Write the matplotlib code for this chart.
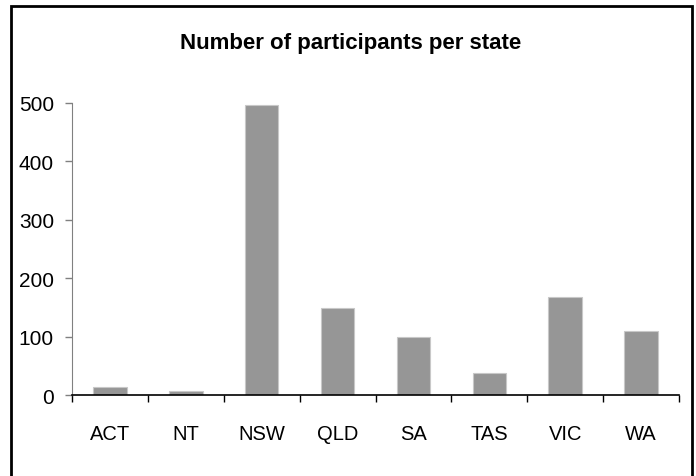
import matplotlib
matplotlib.use("Agg")
from matplotlib import pyplot as plt
from matplotlib.patches import Rectangle
import numpy as np

states = ["ACT", "NT", "NSW", "QLD", "SA", "TAS", "VIC", "WA"]
participants = [13, 7, 496, 149, 100, 38, 167, 109]
yticks = [0, 100, 200, 300, 400, 500]

plt.rcParams['font.family'] = ['Liberation Sans', 'DejaVu Sans']

fig = plt.figure(figsize=(6.96, 4.77), dpi=100)
ax = fig.add_axes([72 / 696, 1 - 396 / 477, (679 - 72) / 696, (396 - 104) / 477])

x = np.arange(len(states))
ax.bar(x, participants, width=0.44, color='#969696', edgecolor='#c8c8c8', linewidth=0.8)

ax.set_xlim(-0.5, len(states) - 0.5)
ax.set_ylim(0, 500)
ax.set_yticks(yticks)
ax.set_yticklabels([str(v) for v in yticks], fontsize=15)

# boundaries get the tick marks, centres get the labels
ax.set_xticks(np.arange(len(states) + 1) - 0.5)
ax.set_xticklabels([])
ax.set_xticks(x, minor=True)
ax.set_xticklabels(states, minor=True, fontsize=14.5)
ax.tick_params(axis='x', which='major', length=5, width=1, color='black', direction='out')
ax.tick_params(axis='x', which='minor', length=0, pad=21)
ax.tick_params(axis='y', length=5, width=1, color='#808080', pad=8)

for s in ['top', 'right']:
    ax.spines[s].set_visible(False)
ax.spines['left'].set_color('#808080')
ax.spines['bottom'].set_color('black')
ax.spines['bottom'].set_linewidth(1.2)

fig.text(351 / 696, 1 - 43 / 477, "Number of participants per state",
         ha='center', va='center', fontsize=16, fontweight='bold')

# outer chart frame, bottom edge runs off the picture
fig.patches.append(Rectangle((11 / 696, -0.1), (692 - 11) / 696, 1.1 - 7 / 477,
                             transform=fig.transFigure, fill=False,
                             edgecolor='black', linewidth=2))

fig.savefig("out.png", dpi=100)
